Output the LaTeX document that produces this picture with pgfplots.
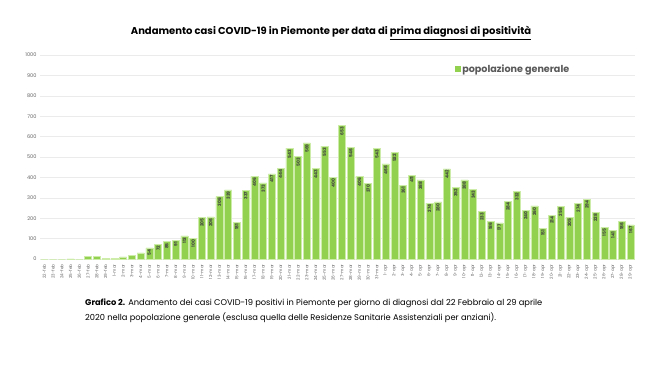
\documentclass[border=0pt]{standalone}
\usepackage{pgfplots}
\pgfplotsset{compat=1.18}
\usepackage{pgfplotstable}
\usepackage{fontspec}
\setmainfont{Poppins}
\definecolor{bargreen}{RGB}{146,208,80}
\definecolor{baredge}{RGB}{205,236,170}
\definecolor{gridc}{RGB}{235,235,235}
\definecolor{ticktxt}{RGB}{100,100,100}
\definecolor{legtxt}{RGB}{89,89,89}
\pgfplotstableread{
x y lab
0 0 {}
1 0 {}
2 0 {}
3 1 {}
4 0 {}
5 13 {}
6 13 {}
7 3 {}
8 3 {}
9 10 {}
10 17 {}
11 30 {}
12 54 54
13 72 72
14 85 85
15 91 91
16 113 113
17 100 100
18 205 205
19 206 206
20 306 306
21 339 339
22 181 181
23 337 337
24 406 406
25 373 373
26 417 417
27 444 444
28 543 543
29 503 503
30 569 569
31 443 443
32 553 553
33 400 400
34 653 653
35 546 546
36 406 406
37 370 370
38 543 543
39 466 466
40 522 522
41 361 361
42 411 411
43 388 388
44 274 274
45 280 280
46 442 442
47 352 352
48 388 388
49 343 343
50 233 233
51 186 186
52 177 177
53 284 284
54 332 332
55 240 240
56 260 260
57 151 151
58 214 214
59 258 258
60 205 205
61 274 274
62 294 294
63 228 228
64 155 155
65 141 141
66 186 186
67 167 167
}\casi
\begin{document}
\begin{tikzpicture}
\path[use as bounding box,fill=white] (0pt,0pt) rectangle (650pt,368pt);
\begin{axis}[
  at={(40pt,109pt)}, anchor=south west,
  scale only axis, width=595pt, height=204pt,
  ybar, bar width=7pt,
  xmin=-0.5, xmax=67.5, ymin=0, ymax=1000,
  ytick={0,100,...,1000},
  ymajorgrids, grid style={gridc, line width=0.5pt},
  axis line style={draw=none},
  axis x line*=bottom,
  x axis line style={draw=gridc},
  tick style={draw=none},
  xtick={0,...,67},
  xticklabels={22-feb,23-feb,24-feb,25-feb,26-feb,27-feb,28-feb,29-feb,
    1-mar,2-mar,3-mar,4-mar,5-mar,6-mar,7-mar,8-mar,9-mar,10-mar,11-mar,12-mar,13-mar,14-mar,15-mar,16-mar,17-mar,18-mar,19-mar,20-mar,21-mar,22-mar,23-mar,24-mar,25-mar,26-mar,27-mar,28-mar,29-mar,30-mar,31-mar,
    1-apr,2-apr,3-apr,4-apr,5-apr,6-apr,7-apr,8-apr,9-apr,10-apr,11-apr,12-apr,13-apr,14-apr,15-apr,16-apr,17-apr,18-apr,19-apr,20-apr,21-apr,22-apr,23-apr,24-apr,25-apr,26-apr,27-apr,28-apr,29-apr},
  x tick label style={rotate=90, anchor=east, font=\fontsize{4.2}{5}\selectfont, text=ticktxt, inner sep=1pt},
  y tick label style={font=\fontsize{5}{6}\selectfont, text=ticktxt},
  /pgf/number format/assume math mode=true,
  yticklabel style={/pgf/number format/1000 sep={}},
  point meta=explicit symbolic,
  nodes near coords,
  every node near coord/.append style={rotate=90, anchor=east, font=\bfseries\fontsize{4.4}{5}\selectfont, text=black!75, inner sep=1.2pt},
  legend style={at={(0.697,0.931)}, anchor=west, draw=none, fill=none, font=\bfseries\fontsize{9.6}{11}\selectfont, text=legtxt, inner sep=0pt},
  legend image code/.code={\fill[bargreen] (0pt,-2.4pt) rectangle (4.8pt,2.4pt);},
]
\addplot[fill=bargreen, draw=baredge, line width=0.6pt] table[x=x,y=y,meta=lab] {\casi};
\addlegendentry{popolazione generale}
\end{axis}
\node[font=\bfseries\fontsize{10}{12}\selectfont, anchor=center] at (331pt,335pt) {Andamento casi COVID-19 in Piemonte per data di \underline{prima diagnosi di positività}};
\node[font=\fontsize{8.3}{15}\selectfont, anchor=north west, align=left, inner sep=0pt] at (85pt,69pt) {\textbf{Grafico 2.} Andamento dei casi COVID-19 positivi in Piemonte per giorno di diagnosi dal 22 Febbraio al 29 aprile\\2020 nella popolazione generale (esclusa quella delle Residenze Sanitarie Assistenziali per anziani).};
\end{tikzpicture}
\end{document}
